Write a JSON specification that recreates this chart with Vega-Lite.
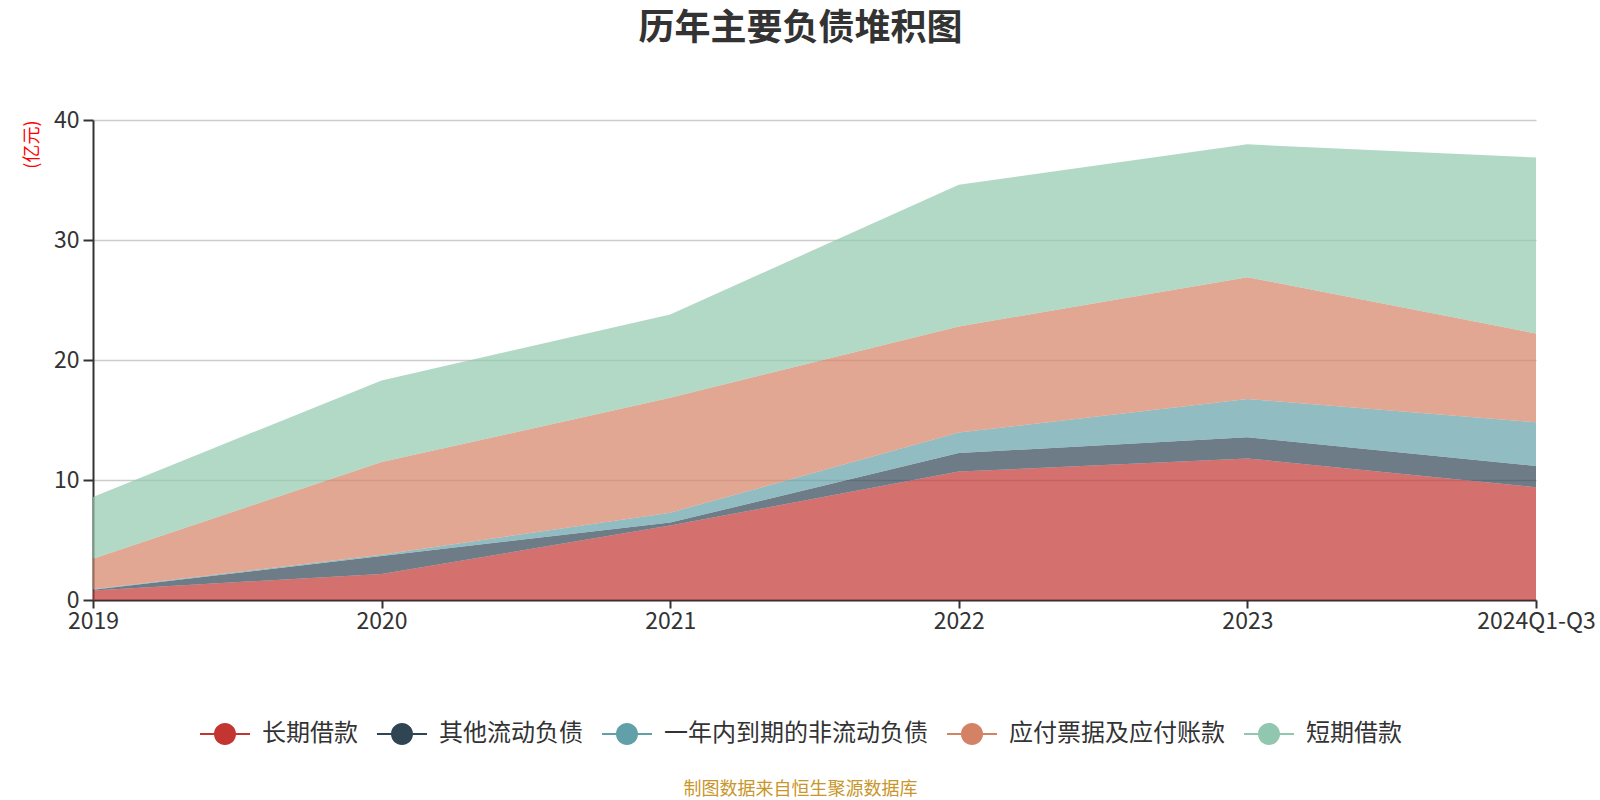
{
  "$schema": "https://vega.github.io/schema/vega-lite/v6.json",
  "autosize": {"type": "none"},
  "width": 1443,
  "height": 480,
  "padding": {"left": 93, "top": 120, "right": 64, "bottom": 200},
  "background": "white",
  "title": {
    "text": "历年主要负债堆积图",
    "fontSize": 36,
    "fontWeight": "bold",
    "color": "#333333",
    "font": "Noto Sans CJK SC",
    "anchor": "middle",
    "offset": 61,
    "dx": -14
  },
  "data": {
    "values": [
      {"year": "2019", "item": "长期借款", "k": 1, "v": 0.8},
      {"year": "2019", "item": "其他流动负债", "k": 2, "v": 0.05},
      {"year": "2019", "item": "一年内到期的非流动负债", "k": 3, "v": 0.04},
      {"year": "2019", "item": "应付票据及应付账款", "k": 4, "v": 2.55},
      {"year": "2019", "item": "短期借款", "k": 5, "v": 5.15},
      {"year": "2020", "item": "长期借款", "k": 1, "v": 2.17},
      {"year": "2020", "item": "其他流动负债", "k": 2, "v": 1.5},
      {"year": "2020", "item": "一年内到期的非流动负债", "k": 3, "v": 0.11},
      {"year": "2020", "item": "应付票据及应付账款", "k": 4, "v": 7.72},
      {"year": "2020", "item": "短期借款", "k": 5, "v": 6.8},
      {"year": "2021", "item": "长期借款", "k": 1, "v": 6.2},
      {"year": "2021", "item": "其他流动负债", "k": 2, "v": 0.25},
      {"year": "2021", "item": "一年内到期的非流动负债", "k": 3, "v": 0.83},
      {"year": "2021", "item": "应付票据及应付账款", "k": 4, "v": 9.57},
      {"year": "2021", "item": "短期借款", "k": 5, "v": 6.95},
      {"year": "2022", "item": "长期借款", "k": 1, "v": 10.7},
      {"year": "2022", "item": "其他流动负债", "k": 2, "v": 1.55},
      {"year": "2022", "item": "一年内到期的非流动负债", "k": 3, "v": 1.7},
      {"year": "2022", "item": "应付票据及应付账款", "k": 4, "v": 8.85},
      {"year": "2022", "item": "短期借款", "k": 5, "v": 11.8},
      {"year": "2023", "item": "长期借款", "k": 1, "v": 11.8},
      {"year": "2023", "item": "其他流动负债", "k": 2, "v": 1.76},
      {"year": "2023", "item": "一年内到期的非流动负债", "k": 3, "v": 3.19},
      {"year": "2023", "item": "应付票据及应付账款", "k": 4, "v": 10.15},
      {"year": "2023", "item": "短期借款", "k": 5, "v": 11.07},
      {"year": "2024Q1-Q3", "item": "长期借款", "k": 1, "v": 9.39},
      {"year": "2024Q1-Q3", "item": "其他流动负债", "k": 2, "v": 1.78},
      {"year": "2024Q1-Q3", "item": "一年内到期的非流动负债", "k": 3, "v": 3.64},
      {"year": "2024Q1-Q3", "item": "应付票据及应付账款", "k": 4, "v": 7.4},
      {"year": "2024Q1-Q3", "item": "短期借款", "k": 5, "v": 14.66}
    ]
  },
  "mark": {"type": "area", "opacity": 0.7, "interpolate": "linear"},
  "encoding": {
    "x": {
      "field": "year",
      "type": "ordinal",
      "scale": {"type": "point", "padding": 0},
      "axis": {
        "title": "制图数据来自恒生聚源数据库",
        "titleColor": "#c8962a",
        "titleFontSize": 18,
        "titleFontWeight": "normal",
        "titleFont": "Noto Sans CJK SC",
        "titleX": 707,
        "titleY": 189,
        "titleAlign": "center",
        "titleBaseline": "middle",
        "labelAngle": 0,
        "labelFontSize": 23,
        "labelFont": "Noto Sans CJK SC",
        "labelColor": "#333333",
        "labelPadding": 2,
        "labelOverlap": false,
        "labelFlush": false,
        "tickSize": 8,
        "tickWidth": 2,
        "tickColor": "#333333",
        "domainColor": "#333333",
        "domainWidth": 2,
        "grid": false
      }
    },
    "y": {
      "field": "v",
      "type": "quantitative",
      "stack": "zero",
      "scale": {"domain": [0, 40]},
      "axis": {
        "title": "(亿元)",
        "titleColor": "#ff0000",
        "titleFontSize": 18,
        "titleFontWeight": "normal",
        "titleFont": "Noto Sans CJK SC",
        "titleAnchor": "end",
        "titleX": -61,
        "titleY": 0,
        "titleAlign": "right",
        "titleBaseline": "middle",
        "values": [0, 10, 20, 30, 40],
        "labelFontSize": 23,
        "labelFont": "Noto Sans CJK SC",
        "labelColor": "#333333",
        "labelPadding": 4,
        "tickSize": 10,
        "tickWidth": 2,
        "tickColor": "#333333",
        "domainColor": "#333333",
        "domainWidth": 2,
        "grid": true,
        "gridColor": "#cccccc",
        "gridWidth": 1.5
      }
    },
    "order": {"field": "k", "type": "quantitative", "sort": "ascending"},
    "color": {
      "field": "item",
      "type": "nominal",
      "scale": {
        "domain": ["长期借款", "其他流动负债", "一年内到期的非流动负债", "应付票据及应付账款", "短期借款"],
        "range": ["#c23531", "#2f4554", "#61a0a8", "#d48265", "#91c7ae"]
      },
      "legend": {
        "title": null,
        "orient": "none",
        "direction": "horizontal",
        "legendX": 107,
        "legendY": 589,
        "padding": 0,
        "symbolType": "M-1,-0.04L-0.4382,-0.04A0.44,0.44,0,0,1,0.4382,-0.04L1,-0.04L1,0.04L0.4382,0.04A0.44,0.44,0,0,1,-0.4382,0.04L-1,0.04Z",
        "symbolSize": 2500,
        "symbolOpacity": 1,
        "symbolStrokeWidth": 0,
        "labelFontSize": 24,
        "labelFont": "Noto Sans CJK SC",
        "labelColor": "#333333",
        "labelOffset": 12,
        "labelLimit": 500,
        "columnPadding": 19
      }
    }
  },
  "config": {
    "view": {"stroke": null},
    "font": "Noto Sans CJK SC"
  }
}
